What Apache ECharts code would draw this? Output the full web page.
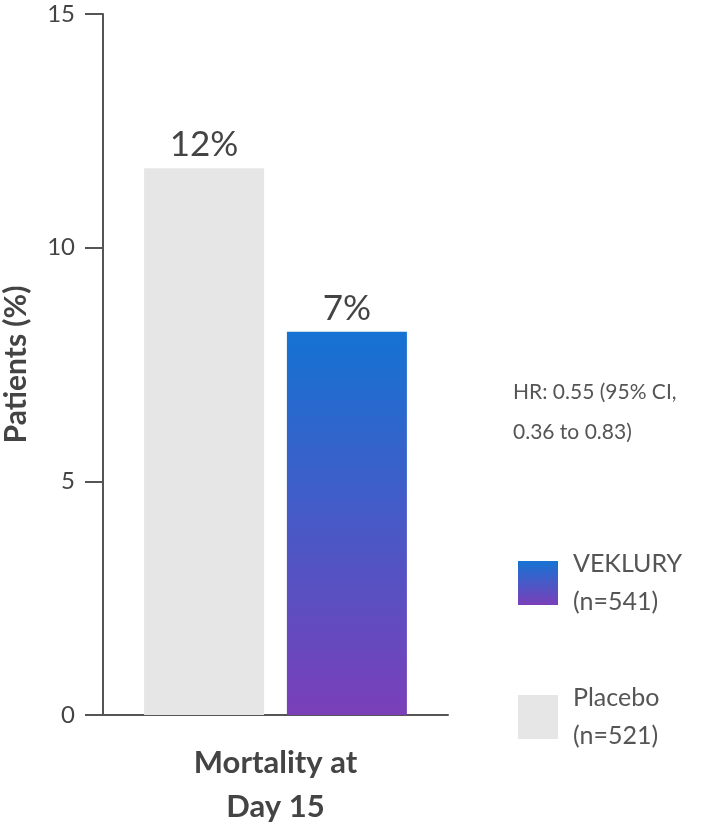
<!DOCTYPE html><html><head><meta charset="utf-8"><script src="https://cdn.jsdelivr.net/npm/echarts@6/dist/echarts.min.js"></script>
<style>body{margin:0}#c{width:710px;height:830px}</style></head><body><div id="c"></div><script>
const categories=['Mortality at\nDay 15'];
const placeboValues=[11.7];
const vekluryValues=[8.2];
const placeboLabels=['12%'];
const vekluryLabels=['7%'];
const legendNames={'VEKLURY':'VEKLURY\n(n=541)','Placebo':'Placebo\n(n=521)'};
const yTicks=[0,5,10,15];
const grad=new echarts.graphic.LinearGradient(0,0,0,1,[{offset:0,color:'#1573d3'},{offset:1,color:'#7a3fb9'}]);
const c=echarts.init(document.getElementById('c'));
c.setOption({
 animation:false,
 grid:{left:103,right:262,top:14,bottom:115},
 xAxis:{type:'category',data:categories,axisTick:{show:false},axisLine:{lineStyle:{color:'#555',width:2}},
  axisLabel:{fontSize:31,fontWeight:'bold',color:'#444',fontFamily:'Lato',lineHeight:44,margin:26}},
 yAxis:{type:'value',min:0,max:15,interval:5,name:'Patients (%)',nameLocation:'middle',nameGap:72,
  nameTextStyle:{fontSize:30,fontWeight:'bold',color:'#444',fontFamily:'Lato'},
  splitLine:{show:false},axisLine:{show:true,lineStyle:{color:'#555',width:2}},
  axisTick:{show:true,length:18,lineStyle:{color:'#555',width:2}},
  axisLabel:{fontSize:24,color:'#444',fontFamily:'Lato',margin:28,formatter:v=>yTicks.includes(v)?String(v):''}},
 legend:{orient:'vertical',left:513,top:540,itemWidth:40,itemHeight:44,itemGap:58,icon:'rect',
  data:['VEKLURY','Placebo'],formatter:n=>legendNames[n],
  textStyle:{fontSize:25,color:'#555',fontFamily:'Lato',lineHeight:38,padding:[0,0,0,10]}},
 graphic:[{type:'text',left:513,top:372,style:{text:'HR: 0.55 (95% CI,\n0.36 to 0.83)',fontSize:21,lineHeight:40,fill:'#555',fontFamily:'Lato'}}],
 series:[
  {name:'Placebo',type:'bar',data:placeboValues,barWidth:120,barGap:'19%',itemStyle:{color:'#e6e6e6'},
   label:{show:true,position:'top',formatter:p=>placeboLabels[p.dataIndex],fontSize:35,color:'#444',fontFamily:'Lato',distance:6}},
  {name:'VEKLURY',type:'bar',data:vekluryValues,barWidth:120,itemStyle:{color:grad},
   label:{show:true,position:'top',formatter:p=>vekluryLabels[p.dataIndex],fontSize:35,color:'#444',fontFamily:'Lato',distance:6}}
 ]
});
</script></body></html>
